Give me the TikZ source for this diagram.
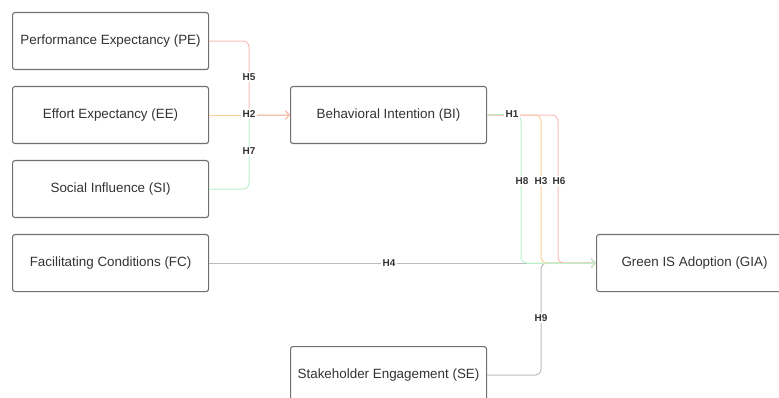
\documentclass[tikz,border=0pt]{standalone}
\usepackage{fontspec}
\setmainfont{Liberation Sans}
\usetikzlibrary{arrows.meta}
\definecolor{boxc}{HTML}{707070}
\definecolor{textc}{HTML}{333333}
\definecolor{pinkc}{HTML}{F9BDB7}
\definecolor{orangec}{HTML}{FCD09C}
\definecolor{greenc}{HTML}{BDEFCB}
\definecolor{grayc}{HTML}{BBBBBB}
\begin{document}
\begin{tikzpicture}[x=1pt,y=-1pt,
  box/.style={draw=boxc, line width=1.1pt, rounded corners=2.5pt, fill=white,
    minimum width=196pt, minimum height=57pt, inner sep=0pt, anchor=north west,
    font=\fontsize{13.4}{15}\selectfont, text=textc},
  conn/.style={line width=1pt, rounded corners=6pt},
  lbl/.style={fill=white, inner sep=1.5pt, font=\bfseries\fontsize{10}{12}\selectfont, text=textc},
  tip/.style={-{Straight Barb[length=4pt,width=8.5pt,line width=1pt]}}]
\useasboundingbox (0,0) rectangle (779,398);
\clip (0,0) rectangle (779,398);
% boxes
\node[box] (PE) at (12,12) {Performance Expectancy (PE)};
\node[box] (EE) at (12,86) {Effort Expectancy (EE)};
\node[box] (SI) at (12,160) {Social Influence (SI)};
\node[box] (FC) at (12,234) {Facilitating Conditions (FC)};
\node[box] (BI) at (290,86) {Behavioral Intention (BI)};
\node[box] (GIA) at (596,234) {Green IS Adoption (GIA)};
\node[box] (SE) at (290,346) {Stakeholder Engagement (SE)};
% helper coordinates
\coordinate (jx) at (249,0);
\coordinate (x8) at (521,0);
\coordinate (x3) at (541,0);
\coordinate (x6) at (558,0);
\coordinate (h1pos) at (512,114);
% left group into BI
\draw[conn, greenc, tip] (SI.east) -| (jx |- BI.west) -- (BI.west);
\draw[conn, orangec, tip] (EE.east) -- (BI.west);
\draw[conn, pinkc, tip] (PE.east) -| (jx |- BI.west) -- (BI.west);
% gray connectors into GIA
\draw[conn, grayc, tip] (FC.east) -- (GIA.west);
\draw[conn, grayc, tip] (SE.east) -| (x3 |- GIA.west) -- (GIA.west);
% BI to GIA
\draw[conn, greenc, tip] (BI.east) -| (x8 |- GIA.west) -- (GIA.west);
\draw[conn, orangec, tip] (BI.east) -| (x3 |- GIA.west) -- (GIA.west);
\draw[conn, pinkc, tip] (BI.east) -| (x6 |- GIA.west) -- (GIA.west);
\draw[conn, greenc] (BI.east) -- (h1pos);
\draw[conn, greenc, tip] ([xshift=6pt]x8 |- GIA.west) -- (GIA.west);
% labels
\node[lbl] (h5) at (249,77) {H5};
\node[lbl] (h2) at (249,114) {H2};
\node[lbl] (h7) at (249,151) {H7};
\node[lbl] (h1) at (h1pos) {H1};
\node[lbl] (h8) at (522,181) {H8};
\node[lbl] (h3) at (541,181) {H3};
\node[lbl] (h6) at (559,181) {H6};
\node[lbl] (h4) at (389,263) {H4};
\node[lbl] (h9) at (541,318) {H9};
\end{tikzpicture}
\end{document}
